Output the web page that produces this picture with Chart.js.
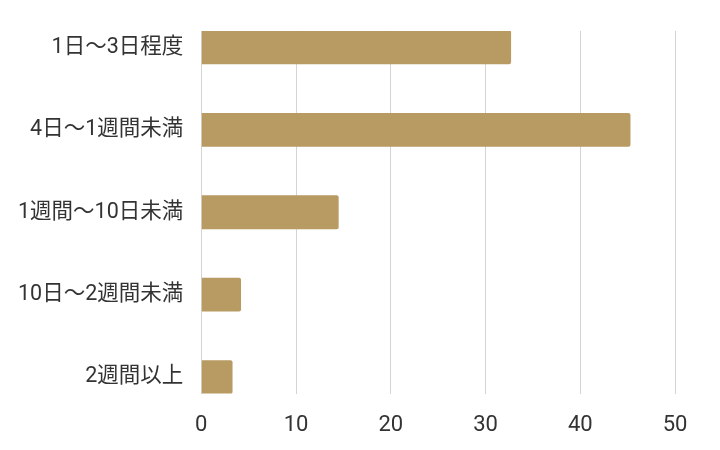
<!DOCTYPE html>
<html lang="ja">
<head>
<meta charset="utf-8">
<title>chart</title>
<script src="https://cdn.jsdelivr.net/npm/chart.js@4"></script>
<style>
    body { margin: 0; background: #ffffff; }
    #wrap { width: 720px; height: 450px; }
</style>
</head>
<body>
<div id="wrap"><canvas id="grafico-barras"></canvas></div>
<script>
// dados do gráfico
const categorias = ['1日〜3日程度', '4日〜1週間未満', '1週間〜10日未満', '10日〜2週間未満', '2週間以上'];
const valores = [32.7, 45.3, 14.5, 4.2, 3.3];
const ticksX = [0, 10, 20, 30, 40, 50];

// cada barra fica na posição do índice da categoria
let pontos = [];
for (var i = 0; i < categorias.length; i++) {
    pontos.push({ x: valores[i], y: i });
}

Chart.defaults.font.family = "Roboto, 'Noto Sans CJK JP', sans-serif";
Chart.defaults.color = '#333333';

const ctx = document.getElementById('grafico-barras');
new Chart(ctx, {
    type: 'bar',
    data: {
        datasets: [{
            data: pontos,
            backgroundColor: '#b79b63',
            borderRadius: 2,
            borderSkipped: 'start',
            categoryPercentage: 1,
            barPercentage: 0.41
        }]
    },
    options: {
        indexAxis: 'y',
        responsive: true,
        maintainAspectRatio: false,
        animation: false,
        layout: {
            // o eixo x reserva o padding duas vezes, por isso o valor negativo
            padding: { top: 30, right: 45, bottom: -8, left: 0 }
        },
        scales: {
            x: {
                min: ticksX[0],
                max: ticksX[ticksX.length - 1],
                afterBuildTicks: function (axis) {
                    axis.ticks = ticksX.map(function (v) { return { value: v }; });
                },
                grid: {
                    color: '#d4d4d4',
                    drawTicks: false
                },
                border: { display: false },
                ticks: {
                    padding: 19,
                    font: { size: 22 },
                    color: '#333333'
                }
            },
            y: {
                type: 'linear',
                reverse: true,
                offset: false,
                min: -0.2,
                max: 4.2,
                afterBuildTicks: function (axis) {
                    axis.ticks = categorias.map(function (c, i) { return { value: i }; });
                },
                grid: { display: false, drawTicks: false, offset: false },
                border: { display: false },
                ticks: {
                    padding: 18,
                    font: { size: 21.5 },
                    color: '#333333',
                    callback: function (v) { return categorias[v]; }
                }
            }
        },
        plugins: {
            legend: { display: false },
            tooltip: { enabled: false }
        }
    }
});
</script>
</body>
</html>
